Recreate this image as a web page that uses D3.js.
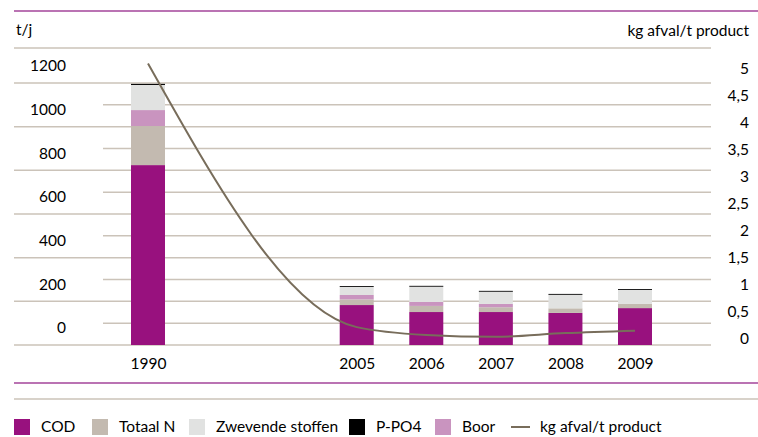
<!DOCTYPE html>
<html>
<head>
<meta charset="utf-8">
<script src="https://cdn.jsdelivr.net/npm/d3@7"></script>
<style>
  body { margin: 0; background: #fff; }
  svg text { font-family: Lato, "Open Sans", sans-serif; fill: #000; }
</style>
</head>
<body>
<svg width="758" height="437"></svg>
<script>
"use strict"

// categories (two empty slots between 1990 and 2005)
const slots = ["1990", "gap1", "gap2", "2005", "2006", "2007", "2008", "2009"]
const years = ["1990", "2005", "2006", "2007", "2008", "2009"]

// stacked series, t/j (bottom to top)
const cod = [824, 183, 151, 151, 147, 169]
const totaalN = [179, 26, 28, 22, 21, 19]
const boor = [73, 20, 18, 15, 0, 0]
const zwevende = [115, 37, 70, 56, 62, 64]
const ppo4 = [5, 4, 4, 4, 4, 4]

// kg afval / t product
const kgPerTon = [5.1, 0.22, 0.075, 0.04, 0.11, 0.155]

const leftTicks = [0, 200, 400, 600, 800, 1000, 1200]
const rightTicks = [0, 0.5, 1, 1.5, 2, 2.5, 3, 3.5, 4, 4.5, 5]

const colors = {
    cod: "#98117e",
    totaalN: "#c3bab0",
    zwevende: "#e1e2e1",
    ppo4: "#000000",
    boor: "#c994bf",
    line: "#786d5b"
}
const gridColor = "#cbc3b9"

let svg = d3.select("svg")

let x = d3.scalePoint().domain(slots).range([148, 635])
let barWidth = 34

let y = d3.scaleLinear().domain([0, 1200]).range([345, 83])
// left labels sit a little above their gridlines in the original
let yLabel = y.copy().range([328, 66])
let yRight = d3.scaleLinear().domain([0, 5]).range([339, 69])

// rules top and bottom
svg.append("line").attr("x1", 14).attr("x2", 758).attr("y1", 11).attr("y2", 11)
    .attr("stroke", "#a3449a").attr("stroke-width", 1.5)
svg.append("line").attr("x1", 14).attr("x2", 711).attr("y1", 48).attr("y2", 48)
    .attr("stroke", gridColor).attr("stroke-width", 1.5)
svg.append("line").attr("x1", 14).attr("x2", 758).attr("y1", 383).attr("y2", 383)
    .attr("stroke", "#a3449a").attr("stroke-width", 1.5)
svg.append("line").attr("x1", 14).attr("x2", 758).attr("y1", 399).attr("y2", 399)
    .attr("stroke", gridColor).attr("stroke-width", 1.5)

// gridlines: full width on the labelled values, short ones in between
svg.append("g").selectAll("line")
    .data(leftTicks)
    .enter().append("line")
    .attr("x1", 14).attr("x2", 711)
    .attr("y1", d => y(d)).attr("y2", d => y(d))
    .attr("stroke", gridColor).attr("stroke-width", 1.5)

svg.append("g").selectAll("line")
    .data(leftTicks.slice(0, -1).map(d => d + 100))
    .enter().append("line")
    .attr("x1", 103).attr("x2", 711)
    .attr("y1", d => y(d)).attr("y2", d => y(d))
    .attr("stroke", gridColor).attr("stroke-width", 1.5)

// axes
let leftAxis = svg.append("g")
    .attr("transform", "translate(66,0)")
    .call(d3.axisLeft(yLabel).tickValues(leftTicks).tickSize(0).tickPadding(0)
        .tickFormat(d3.format("d")))
leftAxis.select(".domain").remove()
leftAxis.selectAll("text").style("font-size", "15.5px").attr("fill", "#000")

let rightAxis = svg.append("g")
    .attr("transform", "translate(749,0)")
    .call(d3.axisRight(yRight).tickValues(rightTicks).tickSize(0).tickPadding(0)
        .tickFormat(d => String(d).replace(".", ",")))
rightAxis.select(".domain").remove()
rightAxis.selectAll("text").style("font-size", "15.5px").attr("fill", "#000")
    .attr("text-anchor", "end")

let bottomAxis = svg.append("g")
    .attr("transform", "translate(0,345)")
    .call(d3.axisBottom(x).tickValues(years).tickSize(0))
bottomAxis.select(".domain").remove()
bottomAxis.selectAll("text").style("font-size", "15.5px").attr("fill", "#000")
    .attr("y", 19).attr("dy", "0.35em")

svg.append("text").attr("x", 16).attr("y", 30).attr("dy", "0.35em")
    .style("font-size", "15.5px").text("t/j")
svg.append("text").attr("x", 749).attr("y", 31).attr("dy", "0.35em")
    .attr("text-anchor", "end").style("font-size", "15.5px").text("kg afval/t product")

// stacked bars
let rows = years.map((yr, i) => ({
    year: yr, cod: cod[i], totaalN: totaalN[i], boor: boor[i],
    zwevende: zwevende[i], ppo4: ppo4[i]
}))
let keys = ["cod", "totaalN", "boor", "zwevende", "ppo4"]
let stacked = d3.stack().keys(keys)(rows)

svg.append("g").selectAll("g")
    .data(stacked)
    .enter().append("g")
    .attr("fill", d => colors[d.key])
    .selectAll("rect")
    .data(d => d)
    .enter().append("rect")
    .attr("x", d => x(d.data.year) - barWidth / 2)
    .attr("width", barWidth)
    .attr("y", d => y(d[1]))
    .attr("height", d => y(d[0]) - y(d[1]))

// line on the right axis
let line = d3.line()
    .x((d, i) => x(years[i]))
    .y(d => yRight(d))
    .curve(d3.curveMonotoneX)

svg.append("path")
    .datum(kgPerTon)
    .attr("fill", "none")
    .attr("stroke", colors.line)
    .attr("stroke-width", 2)
    .attr("d", line)

// legend
let legendItems = [
    {label: "COD", key: "cod", x: 14},
    {label: "Totaal N", key: "totaalN", x: 92},
    {label: "Zwevende stoffen", key: "zwevende", x: 189},
    {label: "P-PO4", key: "ppo4", x: 349},
    {label: "Boor", key: "boor", x: 435}
]
let legend = svg.append("g")
let item = legend.selectAll("g")
    .data(legendItems)
    .enter().append("g")
    .attr("transform", d => "translate(" + d.x + ",419)")
item.append("rect").attr("width", 16).attr("height", 16)
    .attr("fill", d => colors[d.key])
item.append("text").attr("x", 27).attr("y", 8).attr("dy", "0.35em")
    .style("font-size", "15.5px").text(d => d.label)

let lineItem = legend.append("g").attr("transform", "translate(511,419)")
lineItem.append("line").attr("x1", 0).attr("x2", 19).attr("y1", 8).attr("y2", 8)
    .attr("stroke", colors.line).attr("stroke-width", 2)
lineItem.append("text").attr("x", 29).attr("y", 8).attr("dy", "0.35em")
    .style("font-size", "15.5px").text("kg afval/t product")
</script>
</body>
</html>
